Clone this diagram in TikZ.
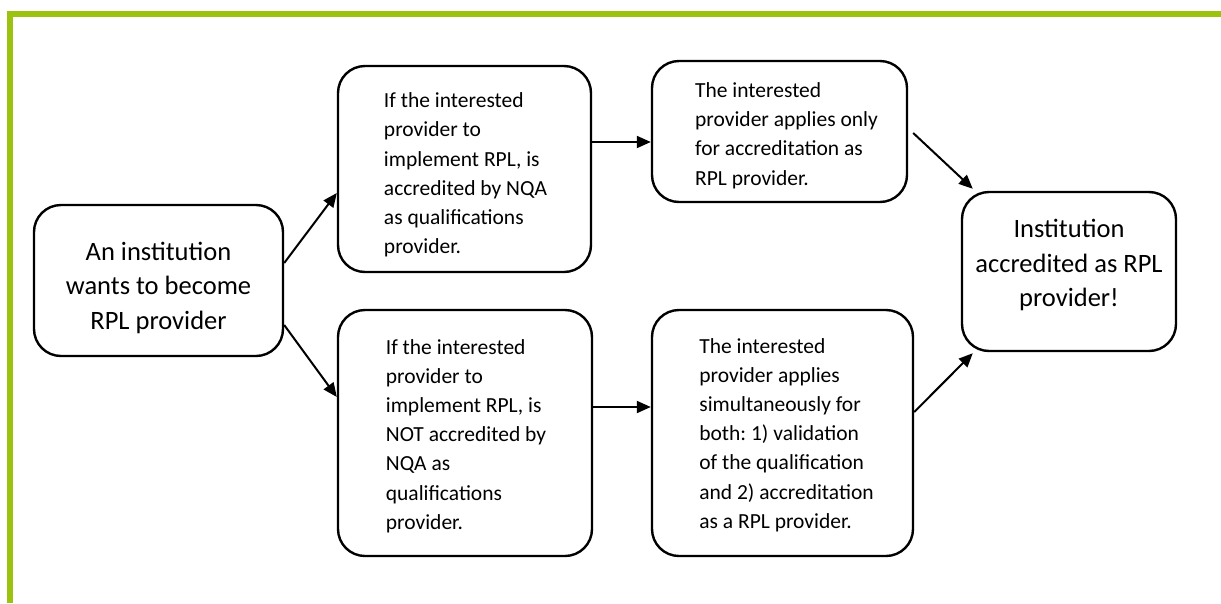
\documentclass[tikz,border=0pt]{standalone}
\usepackage{fontspec}
\setmainfont{Carlito}
\usetikzlibrary{arrows.meta}
\definecolor{framegreen}{RGB}{155,194,15}
\frenchspacing

\begin{document}
\begin{tikzpicture}[x=1pt,y=-1pt,
  box/.style={draw=black, line width=2.4pt, rounded corners=27pt, inner sep=0pt},
  txt/.style={inner sep=0pt, align=left, font=\fontsize{21.5}{29.2}\selectfont},
  bigtxt/.style={inner sep=0pt, align=center, font=\fontsize{26.5}{34.5}\selectfont},
  flow/.style={line width=2pt, -{Triangle[length=14pt,width=12pt]}}]
\useasboundingbox (0,0) rectangle (1221,603);

% green frame along the top and left edges
\draw[framegreen, line width=5.5pt] (10,603) -- (10,13.8) -- (1221,13.8);

% boxes
\node[box, minimum width=249pt, minimum height=151pt] (A) at (158.5,280.5) {};
\node[box, minimum width=253pt, minimum height=206pt] (B) at (464.5,169) {};
\node[box, minimum width=255pt, minimum height=141pt] (C) at (779.5,131.5) {};
\node[box, minimum width=254pt, minimum height=246pt] (D) at (465,433) {};
\node[box, minimum width=261pt, minimum height=246pt] (E) at (782.5,433) {};
\node[box, minimum width=214pt, minimum height=159pt] (F) at (1069,271.5) {};

% box texts
\node[bigtxt] (At) at ([yshift=-7pt]A.center)
  {An institution\\wants to become\\RPL provider};
\node[txt] (Bt) at ([xshift=1pt,yshift=-6pt]B.center)
  {If the interested\\provider to\\implement RPL, is\\accredited by NQA\\as qualifications\\provider.};
\node[txt] (Ct) at ([xshift=7pt,yshift=-4pt]C.center)
  {The interested\\provider applies only\\for accreditation as\\RPL provider.};
\node[txt] (Dt) at ([xshift=1pt,yshift=-3pt]D.center)
  {If the interested\\provider to\\implement RPL, is\\NOT accredited by\\NQA as\\qualifications\\provider.};
\node[txt] (Et) at ([xshift=4pt,yshift=-2pt]E.center)
  {The interested\\provider applies\\simultaneously for\\both: 1) validation\\of the qualification\\and 2) accreditation\\as a RPL provider.};
\node[bigtxt] (Ft) at ([yshift=6.5pt]F.center)
  {Institution\\accredited as RPL\\provider!};

% connectors
\draw[flow] ([yshift=17.5pt]A.east) -- ([yshift=-24pt]B.west);
\draw[flow] ([yshift=-44.5pt]A.east) -- ([yshift=36pt]D.west);
\draw[flow] ([yshift=27pt]B.east) -- ([yshift=-10.5pt]C.west);
\draw[flow] ([yshift=26pt]D.east) -- ([yshift=26pt]E.west);
\draw[flow] ([xshift=5pt,yshift=-1.5pt]C.east) -- ([xshift=12pt,yshift=2pt]F.north west);
\draw[flow] ([yshift=21pt]E.east) -- ([xshift=12pt,yshift=-1pt]F.south west);
\end{tikzpicture}
\end{document}
